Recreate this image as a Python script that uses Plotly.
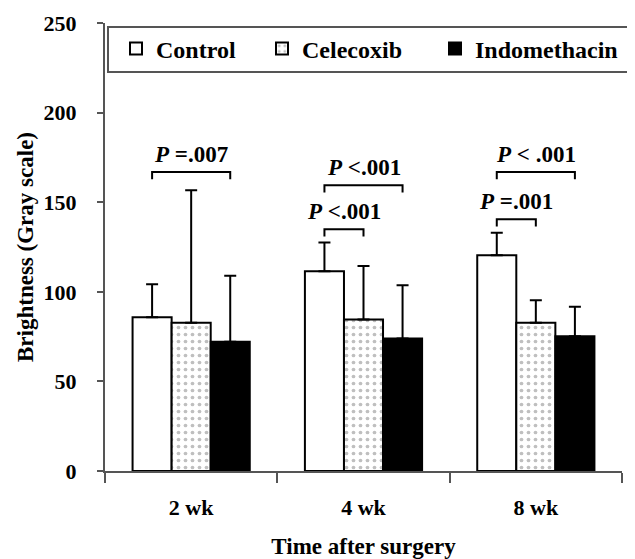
import plotly.graph_objects as go

categories = ["2 wk", "4 wk", "8 wk"]
series_names = ["Control", "Celecoxib", "Indomethacin"]
control = [85.8, 111.5, 120.4]
control_err = [18.4, 16.0, 12.6]
celecoxib = [82.7, 84.5, 82.7]
celecoxib_err = [73.9, 29.9, 12.6]
indomethacin = [72.1, 74.0, 75.2]
indomethacin_err = [36.9, 29.7, 16.4]

# comparisons: (category index, bar a, bar b, bracket y, label)
comparisons = [
    (0, 0, 2, 166.8, "P", " =.007"),
    (1, 0, 1, 134.9, "P", " <.001"),
    (1, 0, 2, 159.4, "P", " <.001"),
    (2, 0, 1, 140.5, "P", " =.001"),
    (2, 0, 2, 166.8, "P", " < .001"),
]

FONT = "Liberation Serif"
bargap = 0.32
nser = 3
bw = (1 - bargap) / nser

values = [control, celecoxib, indomethacin]
errs = [control_err, celecoxib_err, indomethacin_err]
styles = [
    dict(color="white", marker_pattern=None),
    dict(color="white", marker_pattern=dict(shape=".", fgcolor="#808080", bgcolor="white", size=7, solidity=0.22)),
    dict(color="black", marker_pattern=None),
]
legend_ids = ["legend", "legend2", "legend3"]
legend_x = [0.0213, 0.3037, 0.6383]

fig = go.Figure()
for name, v, e, st, lid in zip(series_names, values, errs, styles, legend_ids):
    marker = dict(color=st["color"], line=dict(color="black", width=2))
    if st["marker_pattern"]:
        marker["pattern"] = st["marker_pattern"]
    fig.add_trace(go.Bar(
        x=categories, y=v, name=f"<b>{name}</b>", marker=marker, legend=lid, showlegend=True,
        error_y=dict(type="data", symmetric=False, array=e, arrayminus=[0] * len(e),
                     color="black", thickness=2, width=6),
    ))

shapes = []
annotations = []
for ci, a, b, yb, p, rest in comparisons:
    xa = ci + (a - 1) * bw
    xb = ci + (b - 1) * bw
    drop = 4.0
    shapes.append(dict(type="path", xref="x", yref="y",
                       path=f"M {xa},{yb - drop} L {xa},{yb} L {xb},{yb} L {xb},{yb - drop}",
                       line=dict(color="black", width=2)))
    annotations.append(dict(x=(xa + xb) / 2, y=yb + 2, xref="x", yref="y",
                            text=f"<b><i>{p}</i>{rest}</b>", showarrow=False,
                            yanchor="bottom", font=dict(family=FONT, size=23, color="black")))

# legend frame
shapes.append(dict(type="rect", xref="paper", yref="paper", x0=0.0058, x1=1.021, y0=0.8906, y1=0.991,
                   line=dict(color="#555", width=2), fillcolor="white", layer="below"))

legend_common = dict(orientation="h", yanchor="middle", xanchor="left", y=0.942,
                     bgcolor="rgba(0,0,0,0)", borderwidth=0,
                     font=dict(family=FONT, size=24, color="black"))

fig.update_layout(
    width=627, height=551,
    font=dict(family=FONT, color="black"),
    showlegend=True,
    margin=dict(l=97, r=13, t=15, b=88, autoexpand=False),
    paper_bgcolor="white", plot_bgcolor="rgba(0,0,0,0)",
    barmode="group", bargap=bargap, bargroupgap=0,
    shapes=shapes, annotations=annotations,
    legend=dict(x=legend_x[0], **legend_common),
    legend2=dict(x=legend_x[1], **legend_common),
    legend3=dict(x=legend_x[2], **legend_common),
    xaxis=dict(range=[-0.5, 2.5], showline=True, linecolor="#555", linewidth=2, automargin=False,
               ticks="outside", tickson="boundaries", ticklen=10, tickwidth=2, tickcolor="#555",
               ticklabelstandoff=16,
               tickfont=dict(family=FONT, size=22, color="black", weight="bold"),
               title=dict(text="Time after surgery", standoff=21,
                          font=dict(family=FONT, size=23, color="black", weight="bold")),
               showgrid=False),
    yaxis=dict(range=[0, 250], dtick=50, showline=True, linecolor="#555", linewidth=2, automargin=False,
               ticks="outside", ticklen=6, tickwidth=2, tickcolor="#555",
               ticklabelstandoff=16,
               tickfont=dict(family=FONT, size=22, color="black", weight="bold"),
               title=dict(text="Brightness (Gray scale)", standoff=4,
                          font=dict(family=FONT, size=23, color="black", weight="bold")),
               showgrid=False, zeroline=False),
)

fig.write_html("out.html")
